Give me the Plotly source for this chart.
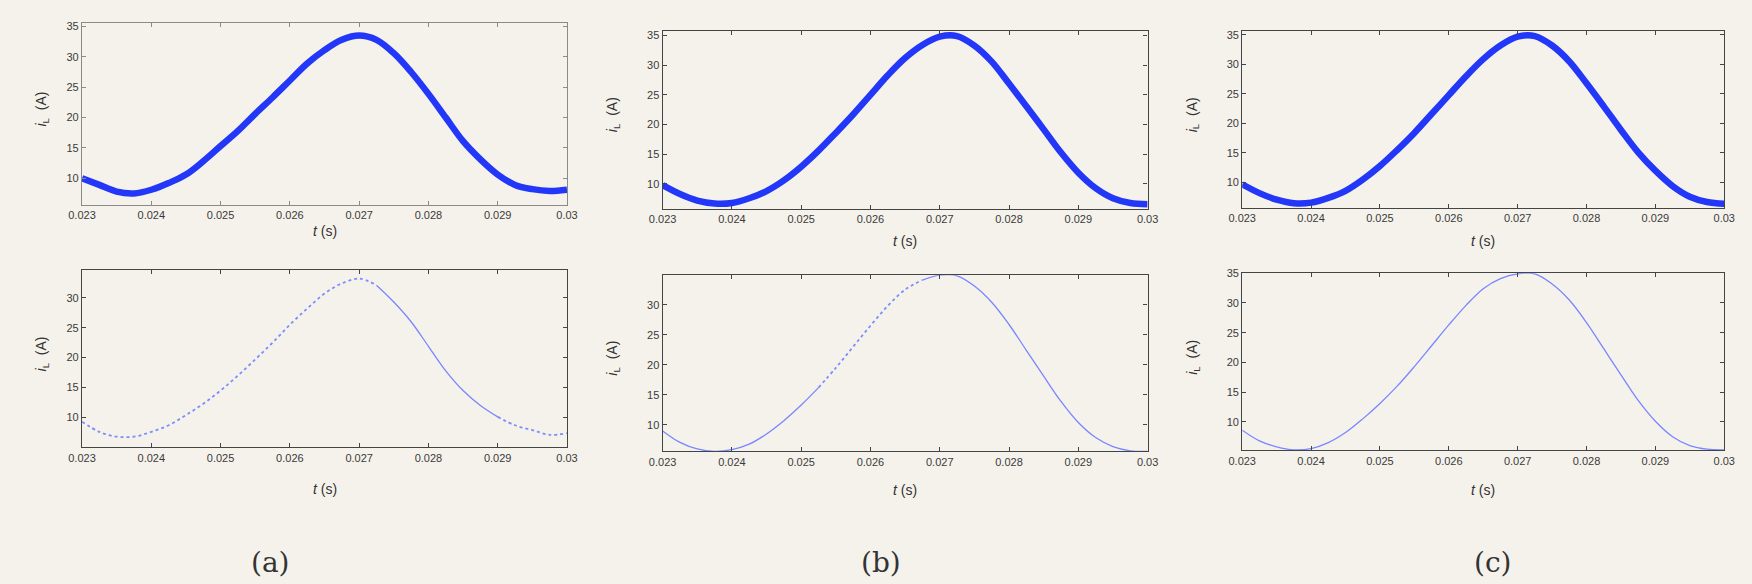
import plotly.graph_objects as go

# time samples (s)
t = [0.023, 0.02325, 0.0235, 0.02375, 0.024, 0.02425, 0.0245, 0.02475, 0.025, 0.02525,
     0.0255, 0.02575, 0.026, 0.02625, 0.0265, 0.02675, 0.027, 0.02725, 0.0275, 0.02775,
     0.028, 0.02825, 0.0285, 0.02875, 0.029, 0.02925, 0.0295, 0.02975, 0.03]

# inductor current i_L (A)
iL_a_top = [10.0, 8.9, 7.8, 7.5, 8.1, 9.2, 10.6, 12.8, 15.3, 17.8,
            20.6, 23.3, 26.1, 28.9, 31.1, 32.8, 33.5, 32.8, 30.6, 27.5,
            23.9, 20.0, 16.1, 13.1, 10.6, 8.9, 8.2, 7.9, 8.1]
iL_a_bot = [9.3, 7.6, 6.8, 6.8, 7.6, 8.7, 10.4, 12.3, 14.5, 17.0,
            19.7, 22.5, 25.5, 28.2, 30.7, 32.4, 33.2, 32.1, 29.3, 26.0,
            21.9, 17.8, 14.5, 12.0, 10.1, 8.7, 7.9, 7.1, 7.4]
iL_b_top = [9.8, 8.3, 7.2, 6.7, 6.8, 7.6, 8.8, 10.6, 12.9, 15.6,
            18.6, 21.7, 25.0, 28.3, 31.2, 33.4, 34.8, 34.9, 33.3, 30.6,
            26.9, 23.1, 19.2, 15.3, 11.9, 9.3, 7.6, 6.8, 6.6]
iL_b_bot = [9.0, 7.1, 6.0, 5.6, 5.9, 6.8, 8.5, 10.7, 13.3, 16.2,
            19.5, 23.0, 26.5, 29.8, 32.5, 34.1, 34.9, 34.8, 33.1, 30.4,
            26.7, 22.4, 18.1, 13.9, 10.4, 7.9, 6.4, 5.7, 5.6]
iL_c_top = [9.7, 8.2, 7.1, 6.5, 6.6, 7.4, 8.6, 10.5, 12.8, 15.5,
            18.4, 21.6, 24.8, 28.0, 30.9, 33.2, 34.7, 34.8, 33.2, 30.5,
            26.8, 22.9, 18.9, 15.1, 12.0, 9.4, 7.6, 6.7, 6.4]
iL_c_bot = [8.6, 6.8, 5.8, 5.3, 5.5, 6.5, 8.2, 10.5, 13.1, 16.0,
            19.3, 22.8, 26.3, 29.6, 32.4, 34.1, 34.9, 34.9, 33.2, 30.5,
            26.7, 22.3, 17.9, 13.6, 10.1, 7.5, 6.0, 5.4, 5.3]

x_ticks = [0.023, 0.024, 0.025, 0.026, 0.027, 0.028, 0.029, 0.03]
x_tick_labels = ["0.023", "0.024", "0.025", "0.026", "0.027", "0.028", "0.029", "0.03"]
y_ticks = [10, 15, 20, 25, 30, 35]
panel_labels = ["(a)", "(b)", "(c)"]

W, H = 1752, 584
BG = "#f5f2ec"

# panel boxes in pixels: (left, right, top, bottom), y-range; dotted index ranges
panels = [
    dict(box=(69, 561, 17, 201), yr=(5.6, 35.6), y=iL_a_top, kind="top", frame="#8a8a8a", tt=26, yt=41),
    dict(box=(658, 1150, 25, 205), yr=(5.8, 35.8), y=iL_b_top, kind="top", frame="#444444", tt=32, yt=50),
    dict(box=(1246, 1735, 25, 204), yr=(5.7, 35.7), y=iL_c_top, kind="top", frame="#444444", tt=33, yt=50),
    dict(box=(69, 561, 267, 446), yr=(5.0, 34.6), y=iL_a_bot, kind="bot", frame="#444444",
         dots=[(0, 17), (24, 28)], tt=42, yt=41),
    dict(box=(658, 1150, 272, 450), yr=(5.6, 34.9), y=iL_b_bot, kind="bot", frame="#444444",
         dots=[(9, 15)], tt=39, yt=50),
    dict(box=(1246, 1735, 270, 449), yr=(5.2, 35.0), y=iL_c_bot, kind="bot", frame="#444444",
         dots=[], tt=40, yt=50),
]

SOLID = dict(color="rgb(120,135,255)", width=1.3, shape="spline")
DOTTED = dict(color="rgb(125,140,255)", width=1.8, shape="spline", dash="dot")

fig = go.Figure()
tick_font = dict(family="Liberation Sans Narrow, Liberation Sans, Arial", size=11, color="#3a3a3a")
annotations = []

for i, p in enumerate(panels):
    n = i + 1
    xa = "xaxis" if n == 1 else f"xaxis{n}"
    ya = "yaxis" if n == 1 else f"yaxis{n}"
    xr = "x" if n == 1 else f"x{n}"
    yr = "y" if n == 1 else f"y{n}"
    l, r, tp, b = p["box"]
    common = dict(showline=True, mirror="ticks", linecolor=p["frame"], linewidth=1.2,
                  ticks="inside", ticklen=4, tickcolor=p["frame"], showgrid=False,
                  zeroline=False, tickfont=tick_font)
    fig.layout[xa] = dict(domain=[l / W, r / W], range=[0.023, 0.03], tickvals=x_ticks,
                          ticktext=x_tick_labels, anchor=yr, **common)
    fig.layout[ya] = dict(domain=[1 - b / H, 1 - tp / H], range=list(p["yr"]), tickvals=y_ticks,
                          anchor=xr, **common)
    ys = p["y"]
    if p["kind"] == "top":
        fig.add_trace(go.Scatter(x=t, y=ys, mode="lines", xaxis=xr, yaxis=yr,
                                 line=dict(color="rgb(35,55,248)", width=6.5, shape="spline"),
                                 showlegend=False, hoverinfo="skip"))
    else:
        # split the series into solid and dotted stretches
        cuts = []
        pos = 0
        for a, z in p["dots"]:
            if a > pos:
                cuts.append((pos, a, SOLID))
            cuts.append((a, z, DOTTED))
            pos = z
        if pos < len(t) - 1:
            cuts.append((pos, len(t) - 1, SOLID))
        for a, z, st in cuts:
            fig.add_trace(go.Scatter(x=t[a:z + 1], y=ys[a:z + 1], mode="lines", xaxis=xr, yaxis=yr,
                                     line=st, showlegend=False, hoverinfo="skip"))
    # axis titles
    cx = (l + r) / 2
    annotations.append(dict(text="<i>t</i> (s)", x=cx / W, y=1 - (b + p["tt"]) / H, xref="paper", yref="paper",
                            showarrow=False, xanchor="center", yanchor="middle",
                            font=dict(family="Liberation Sans, Arial", size=14, color="#333333")))
    annotations.append(dict(text="<i>i</i><sub>L</sub>  (A)", x=(l - p["yt"]) / W, y=1 - ((tp + b) / 2 - 5) / H,
                            xref="paper", yref="paper", textangle=-90, showarrow=False,
                            xanchor="center", yanchor="middle",
                            font=dict(family="Liberation Sans, Arial", size=14, color="#333333")))

for lab, px in zip(panel_labels, [260, 880, 1500]):
    annotations.append(dict(text=lab, x=px / W, y=1 - 562 / H, xref="paper", yref="paper",
                            showarrow=False, xanchor="center", yanchor="middle",
                            font=dict(family="DejaVu Serif, Liberation Serif, serif", size=28, color="#333333")))

fig.update_layout(width=W, height=H, margin=dict(l=0, r=0, t=0, b=0),
                  paper_bgcolor=BG, plot_bgcolor=BG, annotations=annotations, showlegend=False)

fig.write_html("out.html", config={"displayModeBar": False},
               post_script="document.body.style.margin='0px';document.body.style.background='#f5f2ec';")
